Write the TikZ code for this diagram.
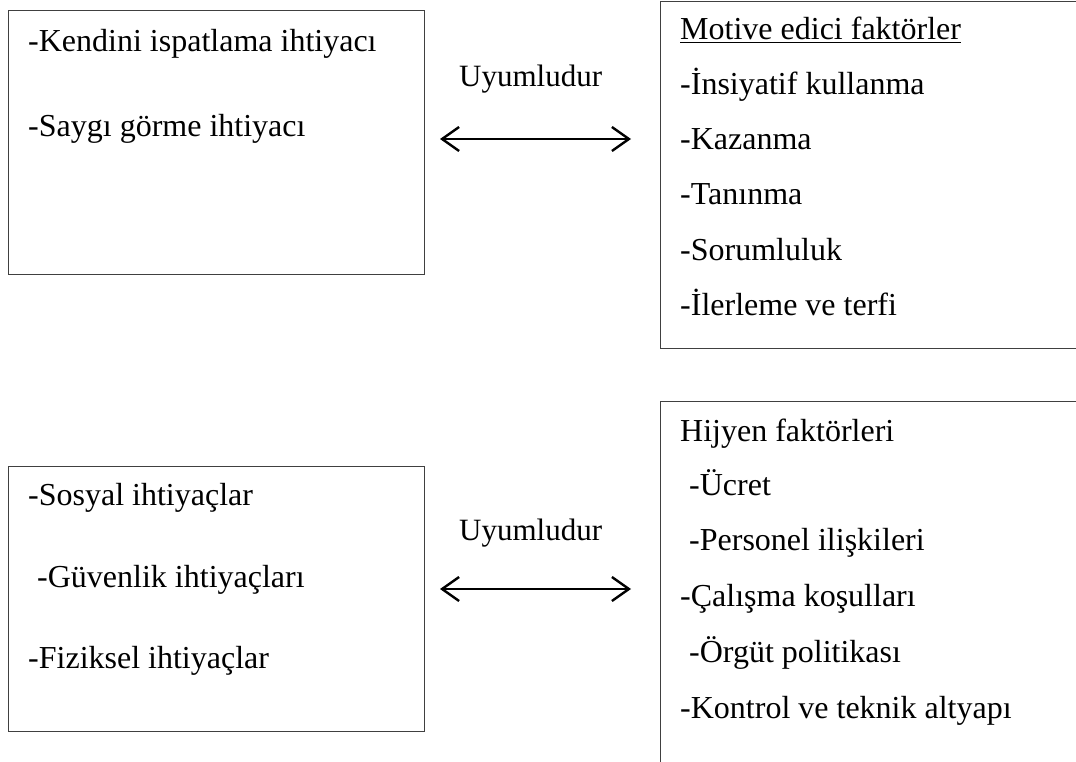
\documentclass[tikz,border=0pt]{standalone}
\usepackage{fontspec}
\setmainfont{Liberation Serif}
\usetikzlibrary{arrows.meta}
\tikzset{
  boxframe/.style={draw=black!75, line width=1.1pt, inner sep=0pt},
  itemtext/.style={anchor=base west, inner sep=0pt, font=\fontsize{32}{36}\selectfont},
  linktext/.style={anchor=base west, inner sep=0pt, font=\fontsize{31}{34}\selectfont},
  biarrow/.style={line width=2.4pt, {Straight Barb[length=17pt,width=24pt,line width=2.4pt]}-{Straight Barb[length=17pt,width=24pt,line width=2.4pt]}}
}
\begin{document}
\begin{tikzpicture}[x=1pt,y=-1pt]
\useasboundingbox (0,0) rectangle (1076,762);
\fill[white] (0,0) rectangle (1076,762);
\clip (0,0) rectangle (1076,762);
% boxes
\node[boxframe, minimum width=416pt, minimum height=264pt, anchor=north west] (tl) at (8,10) {};
\node[boxframe, minimum width=416pt, minimum height=265pt, anchor=north west] (bl) at (8,466) {};
\node[boxframe, minimum width=440pt, minimum height=347pt, anchor=north west] (tr) at (660,1) {};
\node[boxframe, minimum width=440pt, minimum height=380pt, anchor=north west] (br) at (660,401) {};
% top left texts
\node[itemtext] (t1) at (28,52) {-Kendini ispatlama ihtiyacı};
\node[itemtext] (t2) at (28,137) {-Saygı görme ihtiyacı};
% top right texts
\node[itemtext] (m0) at (680,40) {\underline{Motive edici faktörler}};
\node[itemtext] (m1) at (680,95) {-İnsiyatif kullanma};
\node[itemtext] (m2) at (680,150) {-Kazanma};
\node[itemtext] (m3) at (680,205) {-Tanınma};
\node[itemtext] (m4) at (680,260) {-Sorumluluk};
\node[itemtext] (m5) at (680,315) {-İlerleme ve terfi};
% bottom left texts
\node[itemtext] (s1) at (28,505) {-Sosyal ihtiyaçlar};
\node[itemtext] (s2) at (37,587) {-Güvenlik ihtiyaçları};
\node[itemtext] (s3) at (28,668) {-Fiziksel ihtiyaçlar};
% bottom right texts
\node[itemtext] (h0) at (680,441) {Hijyen faktörleri};
\node[itemtext] (h1) at (689,495) {-Ücret};
\node[itemtext] (h2) at (689,550) {-Personel ilişkileri};
\node[itemtext] (h3) at (680,606) {-Çalışma koşulları};
\node[itemtext] (h4) at (689,662) {-Örgüt politikası};
\node[itemtext] (h5) at (680,718) {-Kontrol ve teknik altyapı};
% links
\node[linktext] (u1) at (459,87) {Uyumludur};
\node[linktext] (u2) at (459,540) {Uyumludur};
\coordinate (a1l) at (440,139);
\coordinate (a1r) at (631,139);
\coordinate (a2l) at (440,589);
\coordinate (a2r) at (631,589);
\draw[biarrow] (a1l) -- (a1r);
\draw[biarrow] (a2l) -- (a2r);
\end{tikzpicture}
\end{document}
